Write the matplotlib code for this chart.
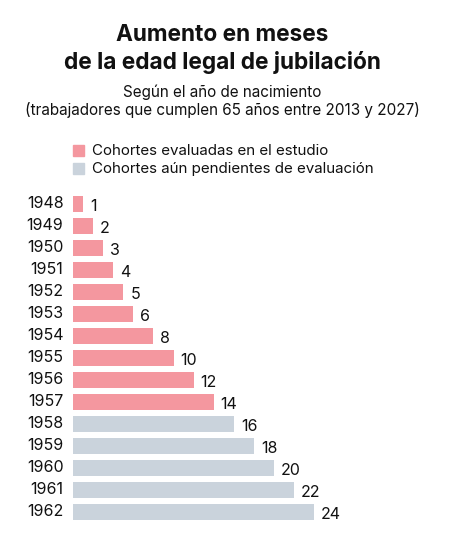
import matplotlib
matplotlib.use("Agg")
import matplotlib.pyplot as plt
from matplotlib.patches import Rectangle

# === Data ===
years = [1948, 1949, 1950, 1951, 1952, 1953, 1954, 1955,
         1956, 1957, 1958, 1959, 1960, 1961, 1962]
months = [1, 2, 3, 4, 5, 6, 8, 10, 12, 14, 16, 18, 20, 22, 24]
evaluated = [True] * 10 + [False] * 5

title = "Aumento en meses\nde la edad legal de jubilación"
subtitle = "Según el año de nacimiento\n(trabajadores que cumplen 65 años entre 2013 y 2027)"
legend_labels = ["Cohortes evaluadas en el estudio",
                 "Cohortes aún pendientes de evaluación"]

PINK = "#F4979F"
GREY = "#CAD3DC"

plt.rcParams['font.family'] = ['Inter', 'DejaVu Sans']

W, H = 468, 533
fig = plt.figure(figsize=(W / 100, H / 100), dpi=100)

def fx(px):
    return px / W

def fy(py):
    return 1 - py / H

# titles
fig.text(fx(222), fy(49), title, ha='center', va='center', fontsize=16.3,
         fontweight='bold', linespacing=1.3, color='#111111')
fig.text(fx(222), fy(101), subtitle, ha='center', va='center', fontsize=11,
         linespacing=1.15, color='#111111')

# legend
for i, (lab, col) in enumerate(zip(legend_labels, [PINK, GREY])):
    yc = 150 + 18 * i
    fig.patches.append(Rectangle((fx(73), fy(yc + 6)), fx(11), 11 / H,
                                 transform=fig.transFigure, color=col))
    fig.text(fx(92), fy(yc + 1), lab, ha='left', va='center', fontsize=10.9,
             color='#111111')

# bars
ax = fig.add_axes([fx(73), fy(523), fx(300), 330 / H])
colors = [PINK if e else GREY for e in evaluated]
pos = list(range(len(years)))
ax.barh(pos, months, height=0.72, color=colors)
ax.set_xlim(0, 300 / 10.05)
ax.set_ylim(len(years) - 0.5, -0.5)
for p, y, m in zip(pos, years, months):
    ax.text(-0.95, p, str(y), ha='right', va='center', fontsize=11.5,
            color='#111111')
    ax.text(m + 0.7, p + 0.12, str(m), ha='left', va='center', fontsize=11.5,
            color='#111111')
ax.axis('off')

fig.savefig("out.png", dpi=100)
